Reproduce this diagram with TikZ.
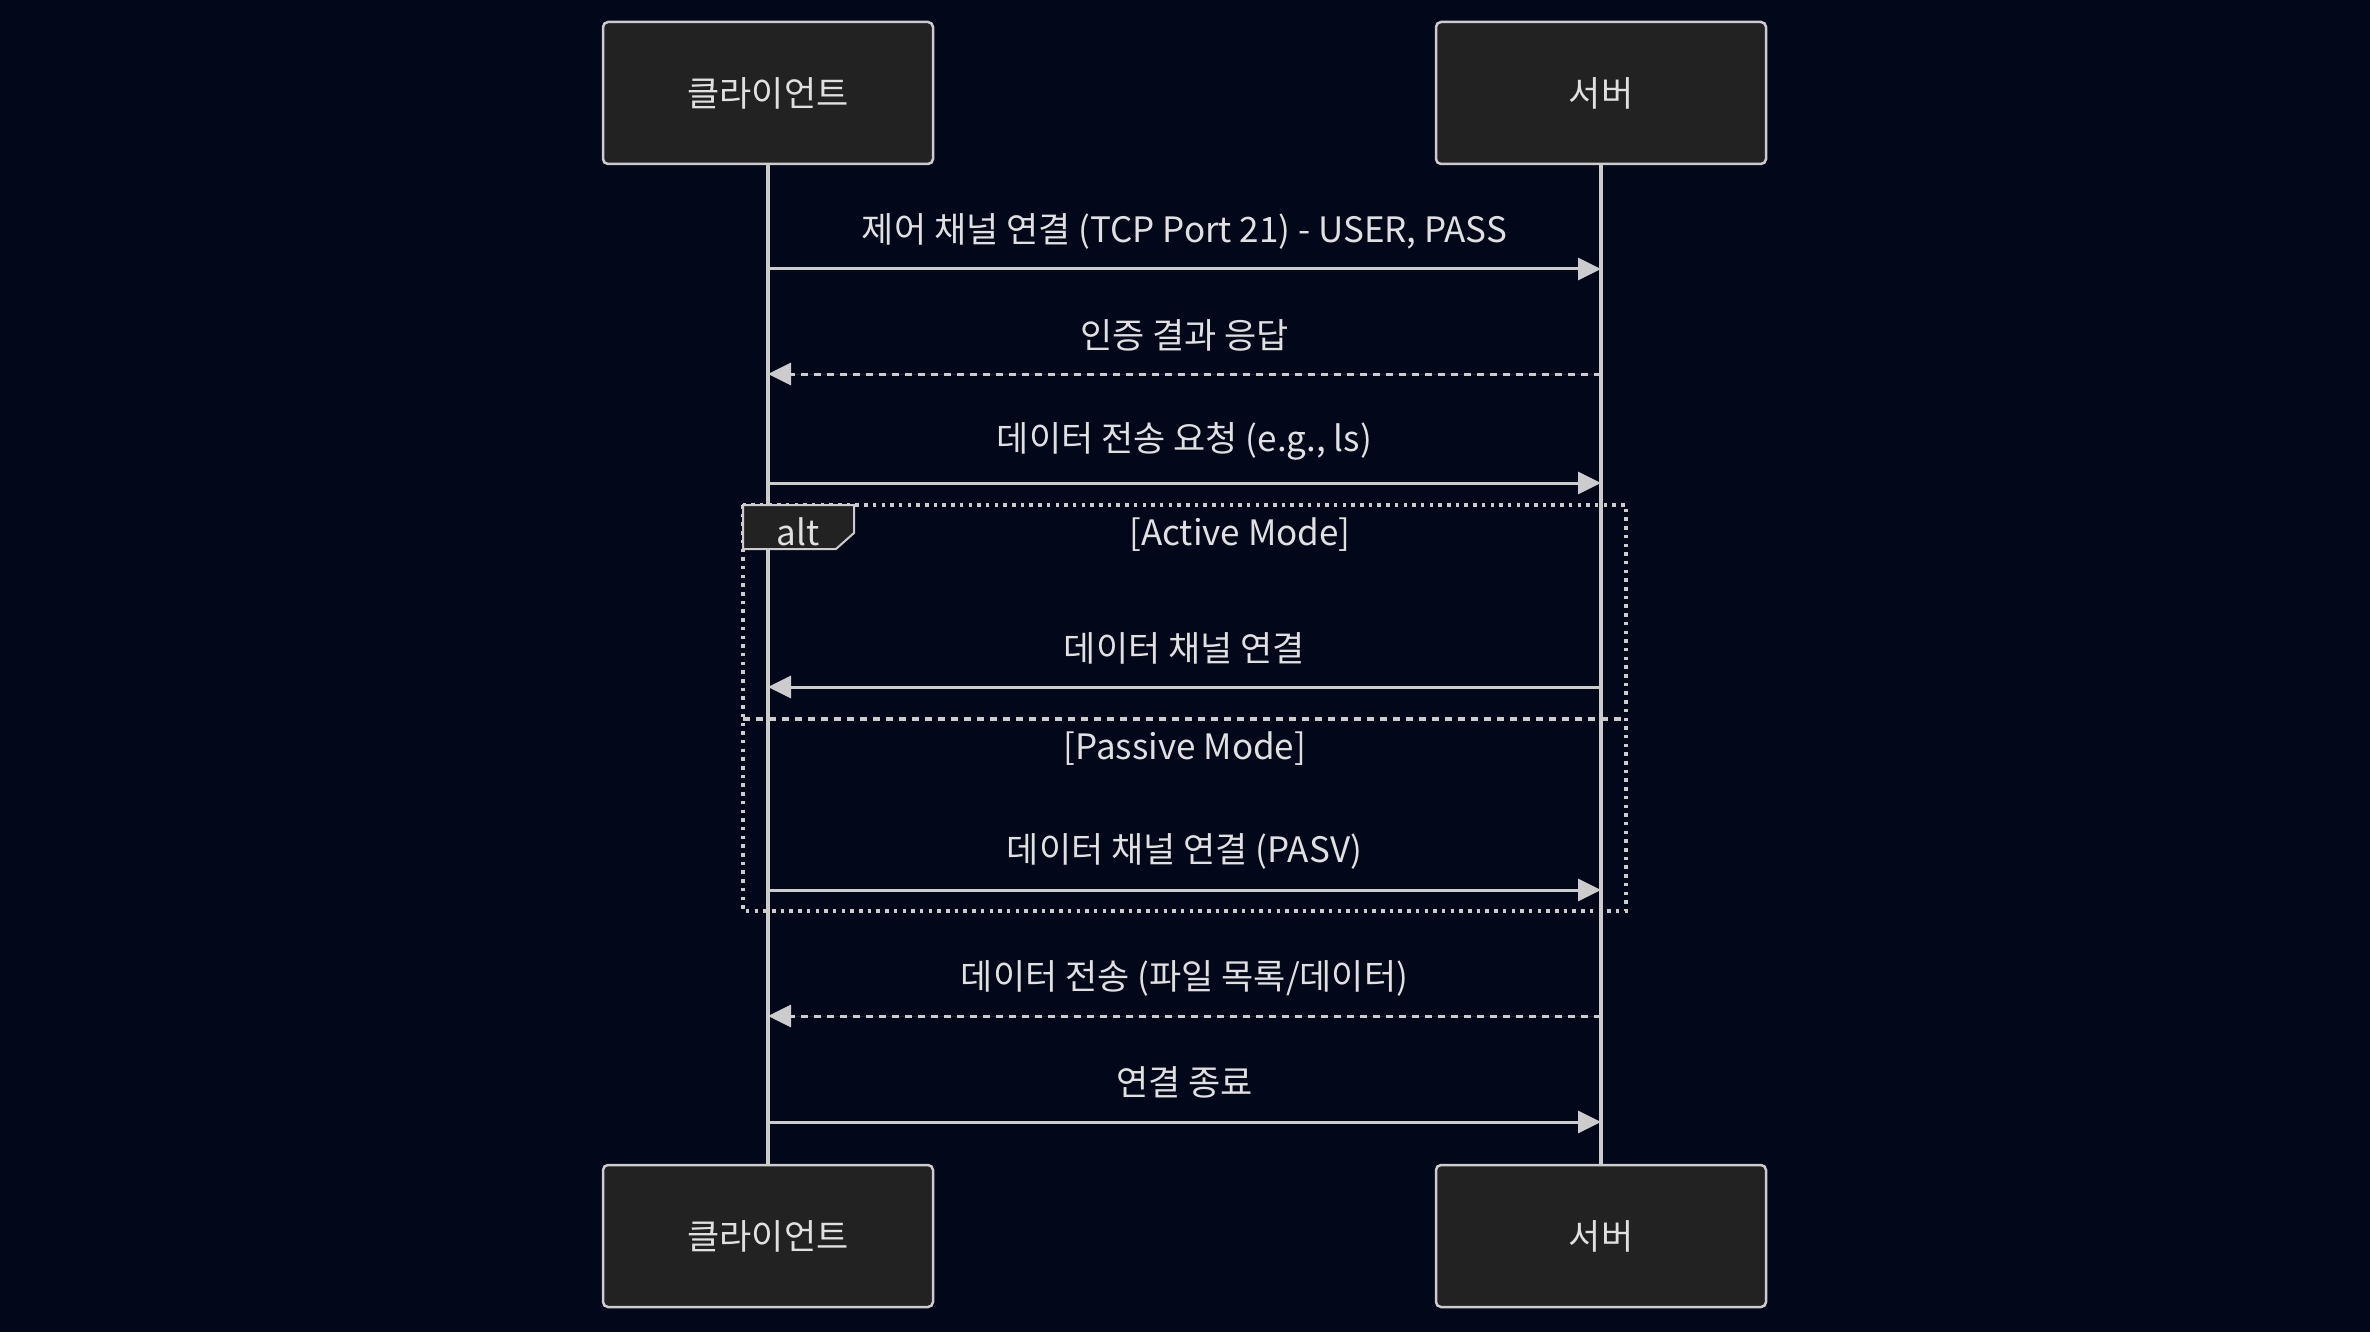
\documentclass[tikz,border=0pt]{standalone}
\usepackage{fontspec}
\setmainfont{Noto Sans CJK KR}
\usetikzlibrary{arrows.meta}
\definecolor{bgc}{RGB}{2,7,25}
\definecolor{boxfill}{RGB}{34,34,34}
\definecolor{linec}{RGB}{204,204,204}
\definecolor{txtc}{RGB}{224,224,224}
\tikzset{
  actor/.style={draw=linec, fill=boxfill, line width=2.5pt, rounded corners=5pt,
    minimum width=330pt, minimum height=142pt, text=txtc, font=\fontsize{35}{42}\selectfont, inner sep=0pt},
  life/.style={draw=linec, line width=3.5pt},
  msg/.style={draw=linec, line width=3pt, -{Triangle[length=23pt,width=22pt]}, fill=linec},
  reply/.style={msg, dash pattern=on 7pt off 6pt},
  mlabel/.style={text=txtc, font=\fontsize{35}{42}\selectfont, inner sep=0pt, anchor=center},
  frame/.style={draw=linec, line width=3.5pt, dash pattern=on 3.5pt off 5.2pt},
  sep/.style={draw=linec, line width=3.5pt, dash pattern=on 7pt off 6pt},
}
\begin{document}
\begin{tikzpicture}[x=1pt,y=-1pt]
\fill[bgc] (0,0) rectangle (2370,1332);
\useasboundingbox (0,0) rectangle (2370,1332);
% participants
\node[actor] (cTop) at (768,93) {\raisebox{-2pt}{클라이언트}};
\node[actor] (sTop) at (1601,93) {\raisebox{-2pt}{서버}};
\node[actor] (cBot) at (768,1236) {\raisebox{-2pt}{클라이언트}};
\node[actor] (sBot) at (1601,1236) {\raisebox{-2pt}{서버}};
% lifelines
\draw[life] (cTop.south) -- (cBot.north);
\draw[life] (sTop.south) -- (sBot.north);
% coordinates on lifelines
\foreach \n/\y in {1/269,2/374,3/483,4/687,5/890,6/1016,7/1122}{
  \coordinate (c\n) at (768,\y);
  \coordinate (s\n) at (1601,\y);
}
% alt frame
\draw[frame] (743,505) rectangle (1626,911);
\draw[sep] (743,719) -- (1626,719);
\draw[draw=linec, fill=boxfill, line width=2pt] (743,505) -- (854,505) -- (854,533) -- (836,549) -- (743,549) -- cycle;
\node[mlabel] (altlbl) at (798,532) {alt};
\node[mlabel] (active) at (1240,535) {[Active Mode]};
\node[mlabel] (passive) at (1185,749) {[Passive Mode]};
% messages
\draw[msg] (c1) -- (s1);
\node[mlabel] (t1) at (1184.5,231) {제어 채널 연결 (TCP Port 21) - USER, PASS};
\draw[reply] (s2) -- (c2);
\node[mlabel] (t2) at (1184.5,335) {인증 결과 응답};
\draw[msg] (c3) -- (s3);
\node[mlabel] (t3) at (1184.5,441) {데이터 전송 요청 (e.g., ls)};
\draw[msg] (s4) -- (c4);
\node[mlabel] (t4) at (1184.5,648) {데이터 채널 연결};
\draw[msg] (c5) -- (s5);
\node[mlabel] (t5) at (1184.5,851) {데이터 채널 연결 (PASV)};
\draw[reply] (s6) -- (c6);
\node[mlabel] (t6) at (1184.5,978) {데이터 전송 (파일 목록/데이터)};
\draw[msg] (c7) -- (s7);
\node[mlabel] (t7) at (1184.5,1082) {연결 종료};
\end{tikzpicture}
\end{document}
